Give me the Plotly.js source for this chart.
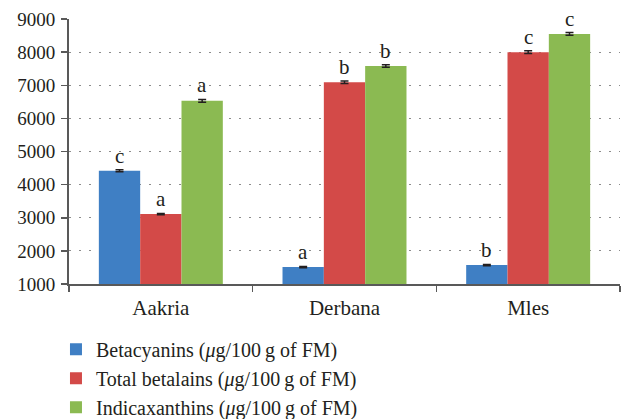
<!DOCTYPE html>
<html>
<head>
<meta charset="utf-8">
<script src="https://cdn.plot.ly/plotly-3.0.1.min.js"></script>
<style>html,body{margin:0;padding:0;background:#fff;}#chart{width:622px;height:419px;}</style>
</head>
<body>
<div id="chart"></div>
<script>
const categories = ["Aakria", "Derbana", "Mles"];
const seriesNames = [
  "Betacyanins (<i>μ</i>g/100\u2009g of FM)",
  "Total betalains (<i>μ</i>g/100\u2009g of FM)",
  "Indicaxanthins (<i>μ</i>g/100\u2009g of FM)"
];
const betacyanins = [4420, 1510, 1570];
const totalBetalains = [3110, 7090, 8000];
const indicaxanthins = [6530, 7580, 8550];
const betacyaninsErr = [30, 20, 20];
const totalBetalainsErr = [20, 40, 40];
const indicaxanthinsErr = [40, 40, 40];
const betacyaninsLetters = ["c", "a", "b"];
const totalBetalainsLetters = ["a", "b", "c"];
const indicaxanthinsLetters = ["a", "b", "c"];

const colors = ["#3f7fc4", "#d34a48", "#8bba52"];
const values = [betacyanins, totalBetalains, indicaxanthins];
const errs = [betacyaninsErr, totalBetalainsErr, indicaxanthinsErr];
const letters = [betacyaninsLetters, totalBetalainsLetters, indicaxanthinsLetters];

const serif = "Liberation Serif, Times New Roman, serif";
const bargap = 0.325;
const traces = values.map((v, s) => ({
  type: "bar",
  name: seriesNames[s],
  x: categories,
  y: v,
  marker: {color: colors[s], line: {width: 0}},
  error_y: {type: "data", array: errs[s], visible: true, color: "#231f20", thickness: 1.5, width: 4}
}));

const slot = (1 - bargap) / values.length;
const annotations = [];
values.forEach((v, s) => {
  v.forEach((val, i) => {
    annotations.push({
      x: i + (s - (values.length - 1) / 2) * slot,
      y: val + errs[s][i],
      xref: "x", yref: "y",
      text: letters[s][i],
      showarrow: false,
      yanchor: "bottom",
      yshift: 0,
      font: {family: serif, size: 21, color: "#231f20"}
    });
  });
});

const layout = {
  width: 622, height: 419,
  margin: {l: 69, r: 2, t: 19, b: 135, pad: 0, autoexpand: false},
  paper_bgcolor: "#fff", plot_bgcolor: "#fff",
  barmode: "group", bargap: bargap, bargroupgap: 0,
  showlegend: true,
  legend: {
    xref: "container", yref: "container",
    x: 0.09, xanchor: "left", y: 0.213, yanchor: "top",
    font: {family: serif, size: 20, color: "#231f20"},
    bgcolor: "rgba(0,0,0,0)", traceorder: "normal"
  },
  font: {family: serif, size: 19, color: "#231f20"},
  xaxis: {
    type: "category",
    showline: true, linecolor: "#595959", linewidth: 2,
    ticks: "outside", tickson: "boundaries", ticklen: 6, tickwidth: 1.5, tickcolor: "#595959",
    tickfont: {family: serif, size: 21, color: "#231f20"},
    ticklabelstandoff: 4,
    showgrid: false, zeroline: false
  },
  yaxis: {
    range: [1000, 9000], dtick: 1000, tick0: 1000,
    showline: true, linecolor: "#595959", linewidth: 2,
    ticks: "outside", ticklen: 6, tickwidth: 1.5, tickcolor: "#595959",
    tickfont: {family: serif, size: 19, color: "#231f20"},
    ticklabelstandoff: 2,
    showgrid: true, gridcolor: "#8c8c8c", gridwidth: 1.2, griddash: "2px,8px",
    zeroline: false
  },
  annotations: annotations
};

Plotly.newPlot("chart", traces, layout, {displayModeBar: false, staticPlot: true});
</script>
</body>
</html>
